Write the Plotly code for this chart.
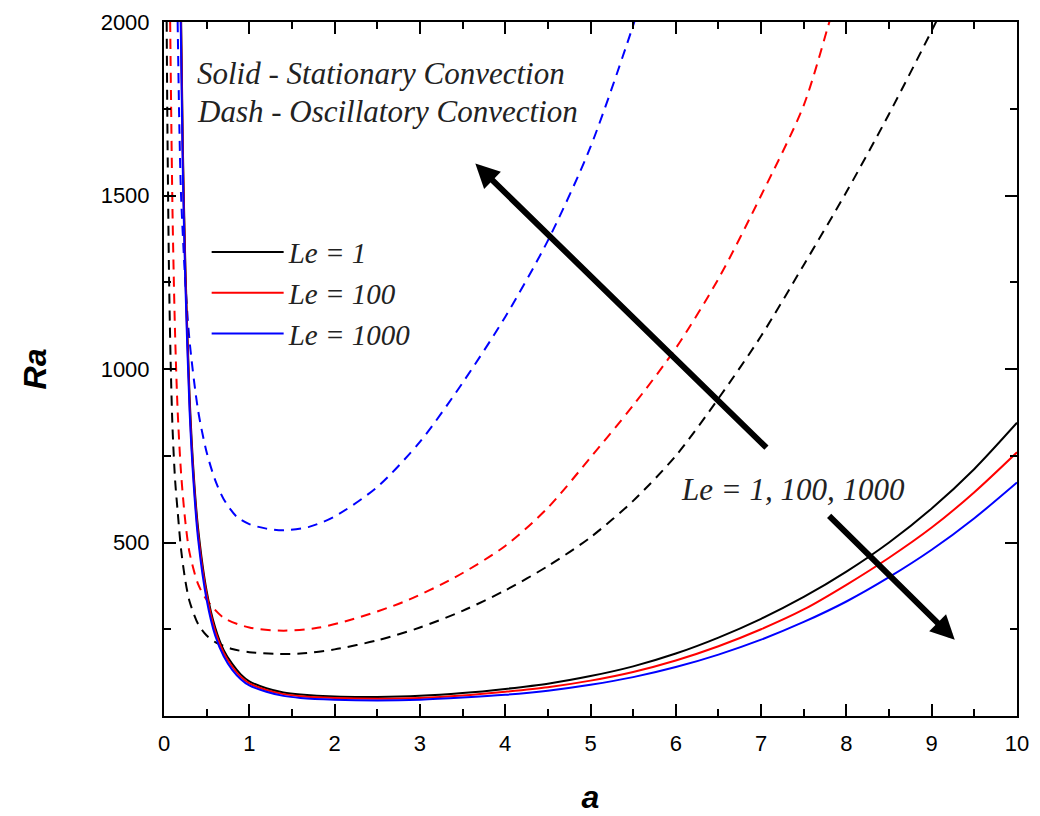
import plotly.graph_objects as go

# ---- data ----
a_solid = [0.19, 0.22, 0.25, 0.3, 0.35, 0.4, 0.5, 0.6, 0.7, 0.8, 0.9, 1.0, 1.2, 1.4, 1.6, 2.0,
           2.5, 3.0, 3.5, 4.0, 4.5, 5.0, 5.5, 6.0, 6.5, 7.0, 7.5, 8.0, 8.5, 9.0, 9.5, 10.0]
ra_stat_le1 = [2200, 1650, 1300, 920, 690, 540, 360, 255, 190, 150, 120, 100, 80, 68, 62, 56,
               55, 58, 66, 78, 93, 115, 143, 180, 226, 280, 343, 416, 500, 598, 712, 845]
ra_stat_le100 = [2150, 1620, 1280, 900, 675, 525, 350, 245, 182, 142, 113, 94, 75, 63, 57, 52,
                 50, 52, 59, 70, 83, 102, 127, 160, 201, 250, 307, 378, 456, 543, 645, 760]
ra_stat_le1000 = [2100, 1580, 1250, 880, 660, 510, 335, 232, 172, 133, 106, 88, 70, 58, 52, 47,
                  45, 47, 53, 61, 73, 90, 112, 141, 177, 220, 271, 330, 400, 479, 570, 673]

a_osc_le1 = [0.03, 0.04, 0.06, 0.08, 0.1, 0.13, 0.16, 0.2, 0.25, 0.3, 0.4, 0.5, 0.6, 0.8, 1.0,
             1.3, 1.6, 2.0, 2.5, 3.0, 3.5, 4.0, 4.5, 5.0, 5.5, 6.0, 6.5, 7.0, 7.5, 8.0, 8.5,
             9.0, 9.1]
ra_osc_le1 = [2050, 1700, 1250, 1000, 830, 680, 590, 480, 390, 330, 265, 232, 213, 193, 184,
              179, 180, 192, 218, 255, 303, 362, 432, 515, 620, 750, 915, 1095, 1300, 1510, 1735,
              1975, 2025]

a_osc_le100 = [0.07, 0.1, 0.13, 0.16, 0.2, 0.25, 0.3, 0.4, 0.5, 0.7, 1.0, 1.4, 1.8, 2.2, 2.8,
               3.4, 4.0, 4.5, 5.0, 5.5, 6.0, 6.5, 7.0, 7.5, 7.8, 7.85]
ra_osc_le100 = [2050, 1450, 1100, 880, 700, 560, 470, 380, 335, 283, 255, 246, 254, 278, 328,
                398, 490, 600, 745, 895, 1060, 1260, 1500, 1760, 2000, 2040]

a_osc_le1000 = [0.16, 0.18, 0.2, 0.25, 0.3, 0.4, 0.5, 0.6, 0.7, 0.85, 1.0, 1.2, 1.4, 1.7, 2.0,
                2.5, 3.0, 3.5, 4.0, 4.5, 5.0, 5.5, 5.55]
ra_osc_le1000 = [2000, 1700, 1500, 1250, 1080, 880, 760, 680, 625, 575, 553, 540, 535, 545, 575,
                 660, 790, 960, 1150, 1370, 1640, 1990, 2030]

le_labels = ["Le = 1", "Le = 100", "Le = 1000"]
colors = ["#000000", "#ff0000", "#0000ff"]

x_ticks = list(range(0, 11))
y_ticks = [500, 1000, 1500, 2000]

serif_it = "Liberation Serif, Times New Roman, serif"
sans = "Liberation Sans, Arial, sans-serif"

fig = go.Figure()

for a_vals, ra_vals, col in [(a_osc_le1, ra_osc_le1, colors[0]),
                             (a_osc_le100, ra_osc_le100, colors[1]),
                             (a_osc_le1000, ra_osc_le1000, colors[2])]:
    fig.add_trace(go.Scatter(x=a_vals, y=ra_vals, mode="lines", showlegend=False,
                             line=dict(color=col, width=2, dash="10px,7px", shape="spline", smoothing=0.8)))

for ra_vals, col, lab in [(ra_stat_le1, colors[0], le_labels[0]),
                          (ra_stat_le100, colors[1], le_labels[1]),
                          (ra_stat_le1000, colors[2], le_labels[2])]:
    fig.add_trace(go.Scatter(x=a_solid, y=ra_vals, mode="lines", name="<i>" + lab + "</i>",
                             line=dict(color=col, width=2, shape="spline", smoothing=0.8)))

axis_common = dict(showline=True, linecolor="black", linewidth=2, mirror="allticks",
                   ticks="inside", ticklen=12, tickwidth=2, tickcolor="black",
                   showgrid=False, zeroline=False, automargin=False,
                   tickfont=dict(family=sans, size=22, color="black"))

fig.update_xaxes(range=[0, 10], tickvals=x_ticks, ticklabelstandoff=7,
                 minor=dict(dtick=0.5, ticks="inside", ticklen=7, tickwidth=2, tickcolor="black"),
                 title=dict(text="<b><i>a</i></b>", font=dict(family=sans, size=32, color="black"),
                            standoff=30),
                 **axis_common)
fig.update_yaxes(range=[0, 2000], tickvals=y_ticks, ticklabelstandoff=8,
                 minor=dict(dtick=250, ticks="inside", ticklen=7, tickwidth=2, tickcolor="black"),
                 title=dict(text="<b><i>Ra</i></b>", font=dict(family=sans, size=32, color="black"),
                            standoff=44),
                 **axis_common)

txt_font = dict(family=serif_it, size=31, color="#222")
annotations = [
    dict(x=0.36, y=1853, xref="x", yref="y", text="<i>Solid - Stationary Convection</i>",
         showarrow=False, xanchor="left", yanchor="middle", font=txt_font),
    dict(x=0.36, y=1743, xref="x", yref="y", text="<i>Dash - Oscillatory Convection</i>",
         showarrow=False, xanchor="left", yanchor="middle", font=txt_font),
    dict(x=7.37, y=653, xref="x", yref="y", text="<i>Le = 1, 100, 1000</i>",
         showarrow=False, xanchor="center", yanchor="middle", font=txt_font),
    dict(x=3.65, y=1592, ax=7.08, ay=769, xref="x", yref="y", axref="x", ayref="y",
         text="", showarrow=True, arrowhead=2, arrowsize=0.8, arrowwidth=6, arrowcolor="black"),
    dict(x=9.27, y=220, ax=7.78, ay=581, xref="x", yref="y", axref="x", ayref="y",
         text="", showarrow=True, arrowhead=2, arrowsize=0.8, arrowwidth=6, arrowcolor="black"),
]

fig.update_layout(
    width=1040, height=816,
    margin=dict(l=164, r=23, t=22, b=100),
    paper_bgcolor="white", plot_bgcolor="white",
    annotations=annotations,
    legend=dict(x=0.05, y=0.705, xanchor="left", yanchor="top",
                bgcolor="rgba(0,0,0,0)", borderwidth=0,
                font=dict(family=serif_it, size=29, color="#222"),
                itemwidth=72, tracegroupgap=0),
)

fig.write_html("out.html")
